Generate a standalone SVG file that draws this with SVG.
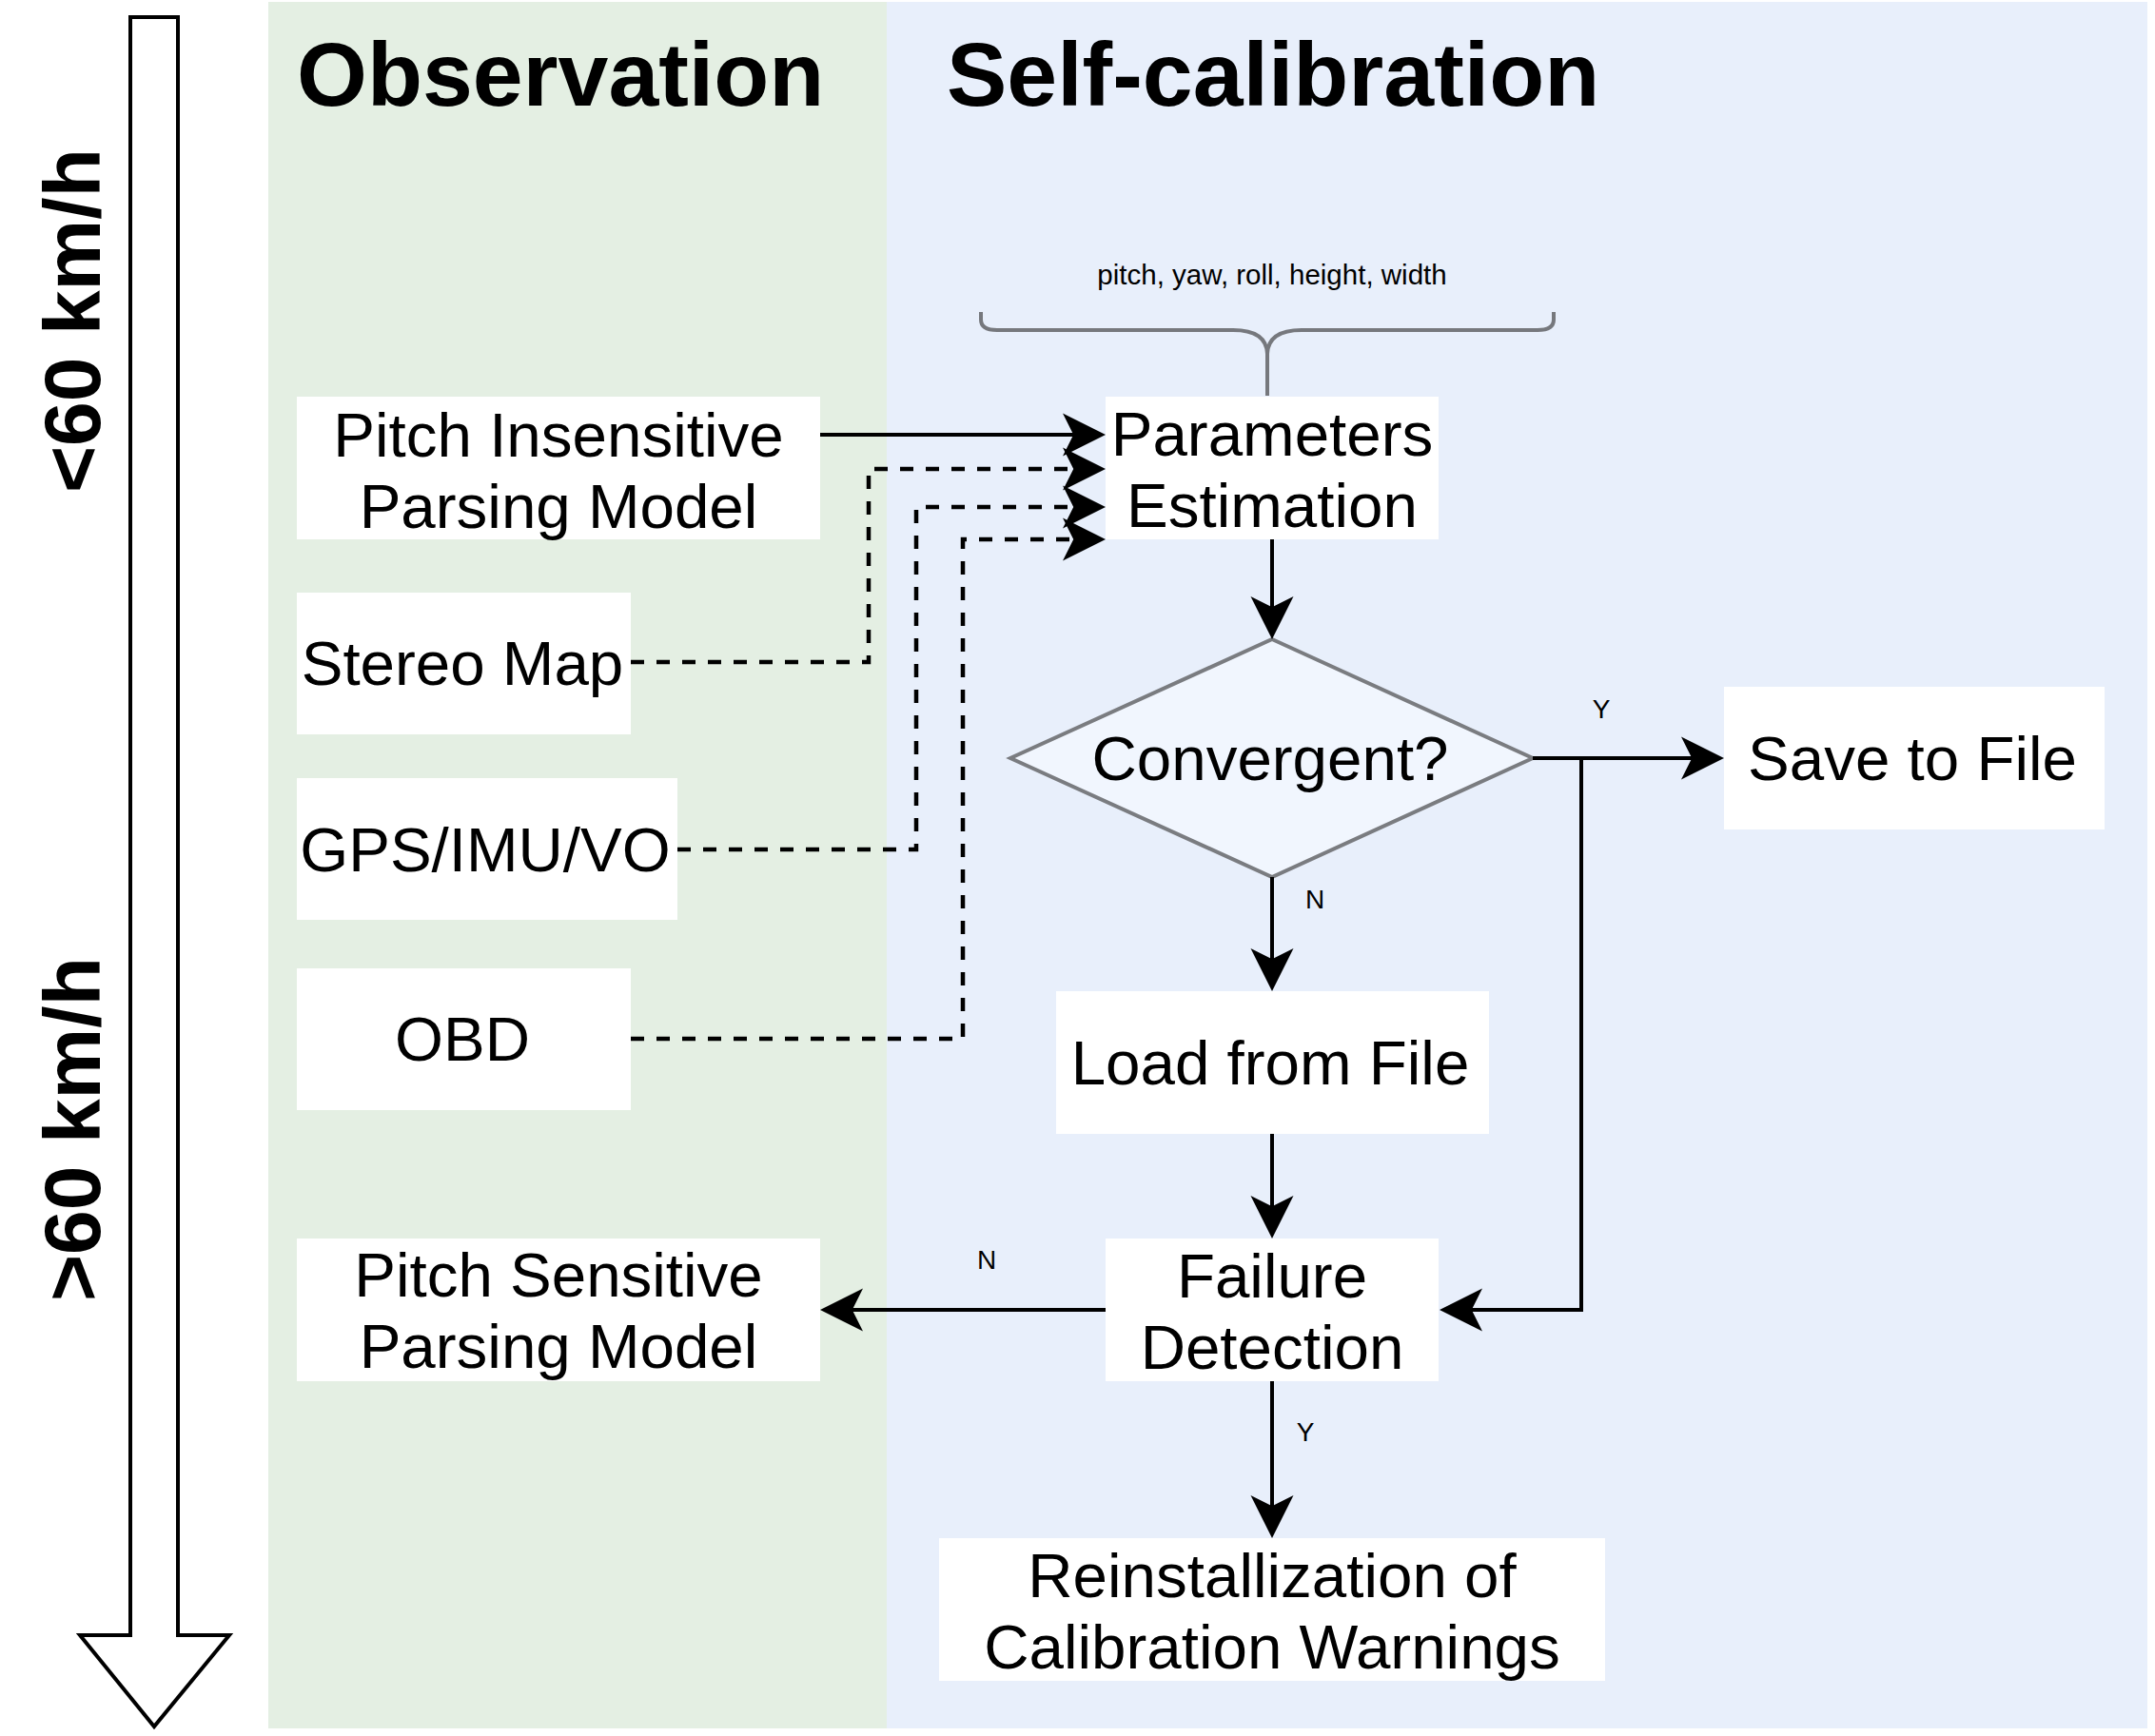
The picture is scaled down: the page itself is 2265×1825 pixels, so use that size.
<svg xmlns="http://www.w3.org/2000/svg" width="2265" height="1825" viewBox="0 0 2265 1825">
  <style>
    .box { fill: #ffffff; stroke: none; }
    .t { font-family: "Liberation Sans", Arial, sans-serif; font-size: 65.5px; fill: #000; text-anchor: middle; }
    .title { font-family: "Liberation Sans", Arial, sans-serif; font-size: 95px; font-weight: bold; fill: #000; }
    .speed { font-family: "Liberation Sans", Arial, sans-serif; font-size: 84px; font-weight: bold; fill: #000; text-anchor: middle; }
    .lbl { font-family: "Liberation Sans", Arial, sans-serif; font-size: 28px; fill: #000; text-anchor: middle; }
    .small { font-family: "Liberation Sans", Arial, sans-serif; font-size: 29.5px; fill: #000; text-anchor: middle; }
    .edge { fill: none; stroke: #000; stroke-width: 4; marker-end: url(#arr); }
    .dash { stroke-width: 4.5; stroke-dasharray: 14 13; }
  </style>
  <defs>
    <marker id="arr" markerUnits="userSpaceOnUse" viewBox="-20 -25 55 50" refX="0" refY="0" markerWidth="55" markerHeight="50" orient="auto">
      <path d="M30,0 L-15,-22.5 L-3.75,0 L-15,22.5 Z" fill="#000"/>
    </marker>
  </defs>

  <rect width="2265" height="1825" fill="#ffffff"/>

  <g id="lane-observation">
    <rect x="282" y="2" width="650" height="1815" fill="#E4EFE3"/>
    <text class="title" x="312" y="111">Observation</text>
  </g>
  <g id="lane-selfcalibration">
    <rect x="932" y="2" width="1325" height="1815" fill="#E8EFFB"/>
    <text class="title" x="995" y="111">Self-calibration</text>
  </g>

  <g id="speed-arrow">
    <path d="M137,18 L187,18 L187,1719 L241,1719 L162,1815 L84,1719 L137,1719 Z" fill="#ffffff" stroke="#000" stroke-width="4" stroke-linejoin="miter"/>
    <text class="speed" transform="translate(105,337) rotate(-90)">&lt;60 km/h</text>
    <text class="speed" transform="translate(105,1187) rotate(-90)">&gt;60 km/h</text>
  </g>

  <g id="param-brace">
    <text class="small" x="1337" y="299">pitch, yaw, roll, height, width</text>
    <path d="M1031,328 L1031,336 Q1031,347 1048,347 L1296,347 Q1331,347 1332,372 Q1333,347 1368,347 L1616,347 Q1633,347 1633,336 L1633,328 M1332,370 L1332,416" fill="none" stroke="#76787d" stroke-width="4"/>
  </g>

  <g id="pitch-insensitive">
    <rect class="box" x="312" y="417" width="550" height="150"/>
    <text class="t" x="587" y="480">Pitch Insensitive</text>
    <text class="t" x="587" y="555">Parsing Model</text>
  </g>
  <g id="stereo-map">
    <rect class="box" x="312" y="623" width="351" height="149"/>
    <text class="t" x="486" y="720">Stereo Map</text>
  </g>
  <g id="gps-imu-vo">
    <rect class="box" x="312" y="818" width="400" height="149"/>
    <text class="t" x="510" y="916">GPS/IMU/VO</text>
  </g>
  <g id="obd">
    <rect class="box" x="312" y="1018" width="351" height="149"/>
    <text class="t" x="486" y="1115">OBD</text>
  </g>
  <g id="pitch-sensitive">
    <rect class="box" x="312" y="1302" width="550" height="150"/>
    <text class="t" x="587" y="1363">Pitch Sensitive</text>
    <text class="t" x="587" y="1438">Parsing Model</text>
  </g>

  <g id="parameters-estimation">
    <rect class="box" x="1162" y="417" width="350" height="150"/>
    <text class="t" x="1337" y="479">Parameters</text>
    <text class="t" x="1337" y="554">Estimation</text>
  </g>
  <g id="convergent">
    <path d="M1337,672 L1611,797 L1337,922 L1062,797 Z" fill="#F1F6FE" stroke="#7a7c80" stroke-width="4"/>
    <text class="t" x="1335" y="820">Convergent?</text>
  </g>
  <g id="save-to-file">
    <rect class="box" x="1812" y="722" width="400" height="150"/>
    <text class="t" x="2010" y="820">Save to File</text>
  </g>
  <g id="load-from-file">
    <rect class="box" x="1110" y="1042" width="455" height="150"/>
    <text class="t" x="1335" y="1140">Load from File</text>
  </g>
  <g id="failure-detection">
    <rect class="box" x="1162" y="1302" width="350" height="150"/>
    <text class="t" x="1337" y="1364">Failure</text>
    <text class="t" x="1337" y="1439">Detection</text>
  </g>
  <g id="reinstallization">
    <rect class="box" x="987" y="1617" width="700" height="150"/>
    <text class="t" x="1337" y="1679">Reinstallization of</text>
    <text class="t" x="1337" y="1754">Calibration Warnings</text>
  </g>

  <g id="connectors">
    <path class="edge" d="M862,457 L1132,457"/>
    <path class="edge dash" d="M663,696 L913,696 L913,493 L1132,493"/>
    <path class="edge dash" d="M712,893 L963,893 L963,533 L1132,533"/>
    <path class="edge dash" d="M663,1092 L1012,1092 L1012,567 L1132,567"/>
    <path class="edge" d="M1337,567 L1337,642"/>
    <path class="edge" d="M1611,797 L1782,797"/>
    <path class="edge" d="M1337,922 L1337,1012"/>
    <path class="edge" d="M1662,797 L1662,1377 L1543,1377"/>
    <path class="edge" d="M1337,1192 L1337,1272"/>
    <path class="edge" d="M1162,1377 L892,1377"/>
    <path class="edge" d="M1337,1452 L1337,1587"/>
    <text class="lbl" x="1683" y="755">Y</text>
    <text class="lbl" x="1382" y="955">N</text>
    <text class="lbl" x="1037" y="1334">N</text>
    <text class="lbl" x="1372" y="1515">Y</text>
  </g>
</svg>
